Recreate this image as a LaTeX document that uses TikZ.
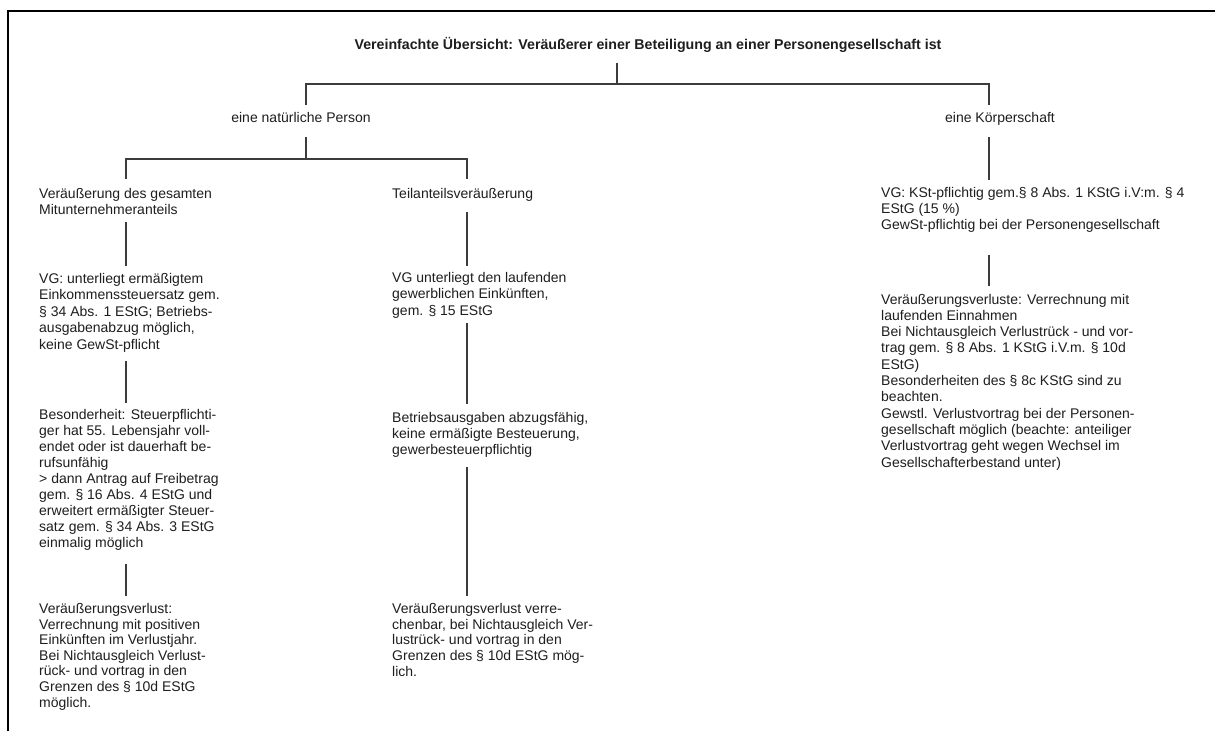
\documentclass[tikz,border=0pt]{standalone}
\usepackage{fontspec}
\setmainfont{Liberation Sans}
\definecolor{txt}{HTML}{1E1E1E}
\definecolor{ln}{HTML}{3C3C3C}
\begin{document}
\begin{tikzpicture}[x=1pt,y=-1pt,
  txtbox/.style={inner sep=0pt, anchor=base west, align=left, text=txt,
    font=\fontsize{14}{#1}\selectfont},
  txtbox/.default=15.8,
  ctr/.style={inner sep=0pt, anchor=base, text=txt, font=\fontsize{14}{16}\selectfont},
  conn/.style={draw=ln, line width=1.3pt}]
\useasboundingbox (0,0) rectangle (1215,731);
\fill[white] (0,0) rectangle (1215,731);
% frame
\draw[line width=2.2pt, black] (8,731) -- (8,11) -- (1215,11);

% title
\node[ctr, font=\fontsize{14.2}{16}\selectfont\bfseries] (title) at (648,49)
  {Vereinfachte Übersicht: Veräußerer einer Beteiligung an einer Personengesellschaft ist};
\node[ctr] (np) at (301,122) {eine natürliche Person};
\node[ctr] (ks) at (1000,122) {eine Körperschaft};

% left column (anchored at the baseline of the last line)
\node[txtbox=16.2] (l1) at (39,214.5) {Veräußerung des gesamten\\Mitunternehmeranteils};
\node[txtbox=16.5] (l2) at (39,349) {VG: unterliegt ermäßigtem\\Einkommenssteuersatz gem.\\§ 34 Abs. 1 EStG; Betriebs-\\ausgabenabzug möglich,\\keine GewSt-pflicht};
\node[txtbox=15.9] (l3) at (39,547) {Besonderheit: Steuerpflichti-\\ger hat 55. Lebensjahr voll-\\endet oder ist dauerhaft be-\\rufsunfähig\\> dann Antrag auf Freibetrag\\gem. § 16 Abs. 4 EStG und\\erweitert ermäßigter Steuer-\\satz gem. § 34 Abs. 3 EStG\\einmalig möglich};
\node[txtbox=15.6] (l4) at (39,707) {Veräußerungsverlust:\\Verrechnung mit positiven\\Einkünften im Verlustjahr.\\Bei Nichtausgleich Verlust-\\rück- und vortrag in den\\Grenzen des § 10d EStG\\möglich.};

% middle column
\node[txtbox] (m1) at (392,198) {Teilanteilsveräußerung};
\node[txtbox=16.2] (m2) at (392,315) {VG unterliegt den laufenden\\gewerblichen Einkünften,\\gem. § 15 EStG};
\node[txtbox=16] (m3) at (392,454) {Betriebsausgaben abzugsfähig,\\keine ermäßigte Besteuerung,\\gewerbesteuerpflichtig};
\node[txtbox=15.6] (m4) at (392,676) {Veräußerungsverlust verre-\\chenbar, bei Nichtausgleich Ver-\\lustrück- und vortrag in den\\Grenzen des § 10d EStG mög-\\lich.};

% right column
\node[txtbox=15.6] (r1) at (881,229) {VG: KSt-pflichtig gem.§ 8 Abs. 1 KStG i.V:m. § 4\\EStG (15 \%)\\GewSt-pflichtig bei der Personengesellschaft};
\node[txtbox=16.3] (r2) at (881,467) {Veräußerungsverluste: Verrechnung mit\\laufenden Einnahmen\\Bei Nichtausgleich Verlustrück - und vor-\\trag gem. § 8 Abs. 1 KStG i.V.m. § 10d\\EStG)\\Besonderheiten des § 8c KStG sind zu\\beachten.\\Gewstl. Verlustvortrag bei der Personen-\\gesellschaft möglich (beachte: anteiliger\\Verlustvortrag geht wegen Wechsel im\\Gesellschafterbestand unter)};

% connector points
\coordinate (t0) at (617,63);
\coordinate (t1) at (617,84);
\coordinate (b1L) at (306,84);
\coordinate (b1R) at (989,84);
\coordinate (npT) at (306,105);
\coordinate (ksT) at (989,105);
\coordinate (npB) at (306,137);
\coordinate (b2) at (306,159);
\coordinate (b2L) at (126,159);
\coordinate (b2R) at (467,159);
\coordinate (l1T) at (126,179);
\coordinate (m1T) at (467,179);
\coordinate (ksB) at (989,137);
\coordinate (r1T) at (989,180);
\coordinate (l1B) at (126,222);
\coordinate (l2T) at (126,266);
\coordinate (l2B) at (126,361);
\coordinate (l3T) at (126,403);
\coordinate (l3B) at (126,564);
\coordinate (l4T) at (126,596);
\coordinate (m1B) at (467,212);
\coordinate (m2T) at (467,266);
\coordinate (m2B) at (467,323);
\coordinate (m3T) at (467,404);
\coordinate (m3B) at (467,467);
\coordinate (m4T) at (467,596);
\coordinate (r1B) at (989,255);
\coordinate (r2T) at (989,286);

\draw[conn] (t0) -- (t1);
\draw[conn] (npT) -- (b1L) -- (b1R) -- (ksT);
\draw[conn] (npB) -- (b2);
\draw[conn] (l1T) -- (b2L) -- (b2R) -- (m1T);
\draw[conn] (ksB) -- (r1T);
\draw[conn] (l1B) -- (l2T);
\draw[conn] (l2B) -- (l3T);
\draw[conn] (l3B) -- (l4T);
\draw[conn] (m1B) -- (m2T);
\draw[conn] (m2B) -- (m3T);
\draw[conn] (m3B) -- (m4T);
\draw[conn] (r1B) -- (r2T);
\end{tikzpicture}
\end{document}
